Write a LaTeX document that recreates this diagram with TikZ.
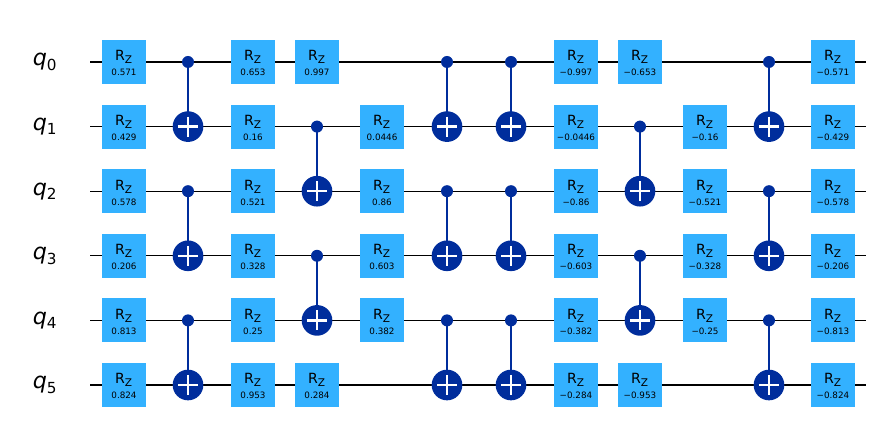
\documentclass[tikz,border=0pt]{standalone}
\usepackage{fontspec}
\setmainfont{DejaVu Sans}
\usetikzlibrary{calc}
\definecolor{rzblue}{HTML}{33B1FF}
\definecolor{cxblue}{HTML}{002D9C}
\tikzset{
  rzgate/.style={fill=rzblue, draw=none, minimum width=1.32cm, minimum height=1.32cm, inner sep=0pt},
  ctrl/.style={circle, fill=cxblue, minimum size=0.36cm, inner sep=0pt},
  targ/.style={circle, fill=cxblue, minimum size=0.92cm, inner sep=0pt},
  wire/.style={black, line width=1.1pt},
  cxline/.style={cxblue, line width=1.6pt}
}
\newcommand{\rzg}[4]{% name, x, wire, value
  \node[rzgate] (#1) at (#2,{62+64.6*#3}) {};
  \node[anchor=base] at ($(#1)+(0,-1)$) {\fontsize{12}{14}\selectfont R\textsubscript{\fontsize{9}{10}\selectfont Z}};
  \node[anchor=base] at ($(#1)+(0,14)$) {\fontsize{7.5}{9}\selectfont #4};
}
\newcommand{\cxg}[4]{% name, x, control wire, target wire
  \coordinate (#1c) at (#2,{62+64.6*#3});
  \coordinate (#1t) at (#2,{62+64.6*#4});
  \draw[cxline] (#1c) -- (#1t);
  \node[ctrl] at (#1c) {};
  \node[targ] (#1p) at (#1t) {};
  \draw[white, line width=2pt] ($(#1t)+(-10,0)$) -- ($(#1t)+(10,0)$) ($(#1t)+(0,-10)$) -- ($(#1t)+(0,10)$);
}
\begin{document}
\begin{tikzpicture}[x=0.03cm, y=-0.03cm]
\useasboundingbox (0,0) rectangle (885,432);

% wires and labels
\foreach \q in {0,...,5} {
  \coordinate (w\q a) at (90,{62+64.6*\q});
  \coordinate (w\q b) at (866,{62+64.6*\q});
  \draw[wire] (w\q a) -- (w\q b);
  \node (lbl\q) at (45,{62+64.6*\q}) {\fontsize{19}{22}\selectfont\textit{q}\textsubscript{\fontsize{13}{15}\selectfont\q}};
}

% first layer
\foreach \v [count=\i from 0] in {0.571,0.429,0.578,0.206,0.813,0.824}
  \rzg{ra\i}{124}{\i}{\v};
\foreach \c/\t [count=\i] in {0/1,2/3,4/5}
  \cxg{xa\i}{188}{\c}{\t};
\foreach \v [count=\i from 0] in {0.653,0.16,0.521,0.328,0.25,0.953}
  \rzg{rb\i}{253}{\i}{\v};
\rzg{rc0}{317}{0}{0.997}
\rzg{rc5}{317}{5}{0.284}
\cxg{xb1}{317}{1}{2}
\cxg{xb2}{317}{3}{4}
\foreach \v [count=\i from 1] in {0.0446,0.86,0.603,0.382}
  \rzg{rd\i}{382}{\i}{\v};
\foreach \c/\t [count=\i] in {0/1,2/3,4/5} {
  \cxg{xc\i}{447}{\c}{\t};
  \cxg{xd\i}{511}{\c}{\t};
}

% mirrored layer
\foreach \v [count=\i from 0] in {−0.997,−0.0446,−0.86,−0.603,−0.382,−0.284}
  \rzg{re\i}{576}{\i}{\v};
\rzg{rf0}{640}{0}{−0.653}
\rzg{rf5}{640}{5}{−0.953}
\cxg{xe1}{640}{1}{2}
\cxg{xe2}{640}{3}{4}
\foreach \v [count=\i from 1] in {−0.16,−0.521,−0.328,−0.25}
  \rzg{rg\i}{705}{\i}{\v};
\foreach \c/\t [count=\i] in {0/1,2/3,4/5}
  \cxg{xf\i}{769}{\c}{\t};
\foreach \v [count=\i from 0] in {−0.571,−0.429,−0.578,−0.206,−0.813,−0.824}
  \rzg{rh\i}{833}{\i}{\v};
\end{tikzpicture}
\end{document}
